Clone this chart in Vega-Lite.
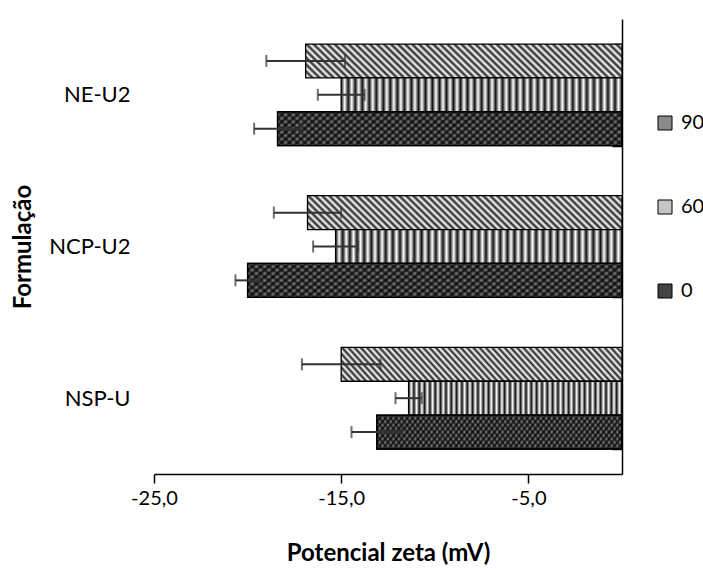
{
  "$schema": "https://vega.github.io/schema/vega-lite/v6.json",
  "width": 468,
  "height": 455,
  "autosize": "none",
  "padding": {"left": 154, "top": 19, "right": 81, "bottom": 98},
  "background": "white",
  "config": {
    "font": "Lato",
    "view": {"stroke": null},
    "axis": {"grid": false}
  },
  "data": {
    "values": [
      {"formulacao": "NE-U2", "tempo": "90", "valor": -16.9, "erro": 2.1},
      {"formulacao": "NE-U2", "tempo": "60", "valor": -15.0, "erro": 1.25},
      {"formulacao": "NE-U2", "tempo": "0", "valor": -18.4, "erro": 1.25},
      {"formulacao": "NCP-U2", "tempo": "90", "valor": -16.8, "erro": 1.8},
      {"formulacao": "NCP-U2", "tempo": "60", "valor": -15.3, "erro": 1.2},
      {"formulacao": "NCP-U2", "tempo": "0", "valor": -20.0, "erro": 0.65},
      {"formulacao": "NSP-U", "tempo": "90", "valor": -15.0, "erro": 2.1},
      {"formulacao": "NSP-U", "tempo": "60", "valor": -11.4, "erro": 0.7},
      {"formulacao": "NSP-U", "tempo": "0", "valor": -13.1, "erro": 1.35}
    ]
  },
  "encoding": {
    "x": {
      "field": "valor", "type": "quantitative", "title": "Potencial zeta (mV)",
      "scale": {"domain": [-25, 0], "nice": false},
      "axis": {
        "orient": "bottom", "values": [-25, -15, -5],
        "labelExpr": "datum.value < 0 ? '-' + replace(format(-datum.value, '.1f'), '.', ',') : replace(format(datum.value, '.1f'), '.', ',')",
        "labelFontSize": 20, "labelColor": "#000", "labelPadding": 5, "labelFlush": false,
        "tickSize": 9, "tickColor": "#000", "tickWidth": 1.5,
        "domainColor": "#000", "domainWidth": 1.5,
        "titleFontSize": 24, "titleFontWeight": "bold", "titleColor": "#000", "titlePadding": 33
      }
    },
    "y": {
      "field": "formulacao", "type": "nominal",
      "scale": {"domain": ["NE-U2", "NCP-U2", "NSP-U"], "paddingInner": 0.33, "paddingOuter": 0.165},
      "axis": null
    },
    "yOffset": {
      "field": "tempo", "type": "nominal",
      "scale": {"domain": ["90", "60", "0"], "paddingInner": 0, "paddingOuter": 0}
    }
  },
  "layer": [
    {
      "transform": [{"filter": "datum.tempo == '90'"}],
      "mark": {
        "type": "bar", "stroke": "#000", "strokeWidth": 1.3,
        "fill": {"gradient": "linear", "x1": 0, "y1": 1, "x2": 1.1, "y2": 0.88, "stops": [
          {"offset":0,"color":"#222"},{"offset":0.01,"color":"#fff"},{"offset":0.02,"color":"#222"},{"offset":0.03,"color":"#fff"},{"offset":0.04,"color":"#222"},{"offset":0.05,"color":"#fff"},{"offset":0.06,"color":"#222"},{"offset":0.07,"color":"#fff"},{"offset":0.08,"color":"#222"},{"offset":0.09,"color":"#fff"},
          {"offset":0.1,"color":"#222"},{"offset":0.11,"color":"#fff"},{"offset":0.12,"color":"#222"},{"offset":0.13,"color":"#fff"},{"offset":0.14,"color":"#222"},{"offset":0.15,"color":"#fff"},{"offset":0.16,"color":"#222"},{"offset":0.17,"color":"#fff"},{"offset":0.18,"color":"#222"},{"offset":0.19,"color":"#fff"},
          {"offset":0.2,"color":"#222"},{"offset":0.21,"color":"#fff"},{"offset":0.22,"color":"#222"},{"offset":0.23,"color":"#fff"},{"offset":0.24,"color":"#222"},{"offset":0.25,"color":"#fff"},{"offset":0.26,"color":"#222"},{"offset":0.27,"color":"#fff"},{"offset":0.28,"color":"#222"},{"offset":0.29,"color":"#fff"},
          {"offset":0.3,"color":"#222"},{"offset":0.31,"color":"#fff"},{"offset":0.32,"color":"#222"},{"offset":0.33,"color":"#fff"},{"offset":0.34,"color":"#222"},{"offset":0.35,"color":"#fff"},{"offset":0.36,"color":"#222"},{"offset":0.37,"color":"#fff"},{"offset":0.38,"color":"#222"},{"offset":0.39,"color":"#fff"},
          {"offset":0.4,"color":"#222"},{"offset":0.41,"color":"#fff"},{"offset":0.42,"color":"#222"},{"offset":0.43,"color":"#fff"},{"offset":0.44,"color":"#222"},{"offset":0.45,"color":"#fff"},{"offset":0.46,"color":"#222"},{"offset":0.47,"color":"#fff"},{"offset":0.48,"color":"#222"},{"offset":0.49,"color":"#fff"},
          {"offset":0.5,"color":"#222"},{"offset":0.51,"color":"#fff"},{"offset":0.52,"color":"#222"},{"offset":0.53,"color":"#fff"},{"offset":0.54,"color":"#222"},{"offset":0.55,"color":"#fff"},{"offset":0.56,"color":"#222"},{"offset":0.57,"color":"#fff"},{"offset":0.58,"color":"#222"},{"offset":0.59,"color":"#fff"},
          {"offset":0.6,"color":"#222"},{"offset":0.61,"color":"#fff"},{"offset":0.62,"color":"#222"},{"offset":0.63,"color":"#fff"},{"offset":0.64,"color":"#222"},{"offset":0.65,"color":"#fff"},{"offset":0.66,"color":"#222"},{"offset":0.67,"color":"#fff"},{"offset":0.68,"color":"#222"},{"offset":0.69,"color":"#fff"},
          {"offset":0.7,"color":"#222"},{"offset":0.71,"color":"#fff"},{"offset":0.72,"color":"#222"},{"offset":0.73,"color":"#fff"},{"offset":0.74,"color":"#222"},{"offset":0.75,"color":"#fff"},{"offset":0.76,"color":"#222"},{"offset":0.77,"color":"#fff"},{"offset":0.78,"color":"#222"},{"offset":0.79,"color":"#fff"},
          {"offset":0.8,"color":"#222"},{"offset":0.81,"color":"#fff"},{"offset":0.82,"color":"#222"},{"offset":0.83,"color":"#fff"},{"offset":0.84,"color":"#222"},{"offset":0.85,"color":"#fff"},{"offset":0.86,"color":"#222"},{"offset":0.87,"color":"#fff"},{"offset":0.88,"color":"#222"},{"offset":0.89,"color":"#fff"},
          {"offset":0.9,"color":"#222"},{"offset":0.91,"color":"#fff"},{"offset":0.92,"color":"#222"},{"offset":0.93,"color":"#fff"},{"offset":0.94,"color":"#222"},{"offset":0.95,"color":"#fff"},{"offset":0.96,"color":"#222"},{"offset":0.97,"color":"#fff"},{"offset":0.98,"color":"#222"},{"offset":0.99,"color":"#fff"},
          {"offset":1,"color":"#222"}
        ]}
      },
      "encoding": {
        "y": {
          "field": "formulacao", "type": "nominal",
          "scale": {"domain": ["NE-U2", "NCP-U2", "NSP-U"], "paddingInner": 0.33, "paddingOuter": 0.165},
          "axis": {
            "orient": "left", "offset": -468, "title": "Formulação",
            "titleFontSize": 24, "titleFontWeight": "bold", "titleColor": "#000",
            "titleX": -599, "titleY": 227.5, "titleAngle": -90, "titleAlign": "center", "titleBaseline": "middle",
            "labelFontSize": 22, "labelColor": "#000", "labelPadding": 482,
            "domain": true, "domainColor": "#000", "domainWidth": 1.5,
            "ticks": true, "tickBand": "extent", "tickSize": 10, "tickColor": "#000", "tickWidth": 1.5
          }
        }
      }
    },
    {
      "transform": [{"filter": "datum.tempo == '60'"}],
      "mark": {
        "type": "bar", "stroke": "#000", "strokeWidth": 1.3,
        "fill": {"gradient": "linear", "x1": 0, "y1": 0, "x2": 1, "y2": 0, "stops": [
          {"offset":0,"color":"#111"},{"offset":0.0125,"color":"#fff"},{"offset":0.025,"color":"#111"},{"offset":0.0375,"color":"#fff"},{"offset":0.05,"color":"#111"},{"offset":0.0625,"color":"#fff"},{"offset":0.075,"color":"#111"},{"offset":0.0875,"color":"#fff"},
          {"offset":0.1,"color":"#111"},{"offset":0.1125,"color":"#fff"},{"offset":0.125,"color":"#111"},{"offset":0.1375,"color":"#fff"},{"offset":0.15,"color":"#111"},{"offset":0.1625,"color":"#fff"},{"offset":0.175,"color":"#111"},{"offset":0.1875,"color":"#fff"},
          {"offset":0.2,"color":"#111"},{"offset":0.2125,"color":"#fff"},{"offset":0.225,"color":"#111"},{"offset":0.2375,"color":"#fff"},{"offset":0.25,"color":"#111"},{"offset":0.2625,"color":"#fff"},{"offset":0.275,"color":"#111"},{"offset":0.2875,"color":"#fff"},
          {"offset":0.3,"color":"#111"},{"offset":0.3125,"color":"#fff"},{"offset":0.325,"color":"#111"},{"offset":0.3375,"color":"#fff"},{"offset":0.35,"color":"#111"},{"offset":0.3625,"color":"#fff"},{"offset":0.375,"color":"#111"},{"offset":0.3875,"color":"#fff"},
          {"offset":0.4,"color":"#111"},{"offset":0.4125,"color":"#fff"},{"offset":0.425,"color":"#111"},{"offset":0.4375,"color":"#fff"},{"offset":0.45,"color":"#111"},{"offset":0.4625,"color":"#fff"},{"offset":0.475,"color":"#111"},{"offset":0.4875,"color":"#fff"},
          {"offset":0.5,"color":"#111"},{"offset":0.5125,"color":"#fff"},{"offset":0.525,"color":"#111"},{"offset":0.5375,"color":"#fff"},{"offset":0.55,"color":"#111"},{"offset":0.5625,"color":"#fff"},{"offset":0.575,"color":"#111"},{"offset":0.5875,"color":"#fff"},
          {"offset":0.6,"color":"#111"},{"offset":0.6125,"color":"#fff"},{"offset":0.625,"color":"#111"},{"offset":0.6375,"color":"#fff"},{"offset":0.65,"color":"#111"},{"offset":0.6625,"color":"#fff"},{"offset":0.675,"color":"#111"},{"offset":0.6875,"color":"#fff"},
          {"offset":0.7,"color":"#111"},{"offset":0.7125,"color":"#fff"},{"offset":0.725,"color":"#111"},{"offset":0.7375,"color":"#fff"},{"offset":0.75,"color":"#111"},{"offset":0.7625,"color":"#fff"},{"offset":0.775,"color":"#111"},{"offset":0.7875,"color":"#fff"},
          {"offset":0.8,"color":"#111"},{"offset":0.8125,"color":"#fff"},{"offset":0.825,"color":"#111"},{"offset":0.8375,"color":"#fff"},{"offset":0.85,"color":"#111"},{"offset":0.8625,"color":"#fff"},{"offset":0.875,"color":"#111"},{"offset":0.8875,"color":"#fff"},
          {"offset":0.9,"color":"#111"},{"offset":0.9125,"color":"#fff"},{"offset":0.925,"color":"#111"},{"offset":0.9375,"color":"#fff"},{"offset":0.95,"color":"#111"},{"offset":0.9625,"color":"#fff"},{"offset":0.975,"color":"#111"},{"offset":0.9875,"color":"#fff"},
          {"offset":1,"color":"#111"}
        ]}
      }
    },
    {
      "transform": [{"filter": "datum.tempo == '0'"}],
      "mark": {
        "type": "bar", "stroke": "#000", "strokeWidth": 1.3,
        "fill": {"gradient": "linear", "x1": 0, "y1": 0, "x2": 1.1, "y2": 0.12, "stops": [
          {"offset":0,"color":"#1a1a1a"},{"offset":0.01,"color":"#8c8c8c"},{"offset":0.02,"color":"#1a1a1a"},{"offset":0.03,"color":"#8c8c8c"},{"offset":0.04,"color":"#1a1a1a"},{"offset":0.05,"color":"#8c8c8c"},{"offset":0.06,"color":"#1a1a1a"},{"offset":0.07,"color":"#8c8c8c"},{"offset":0.08,"color":"#1a1a1a"},{"offset":0.09,"color":"#8c8c8c"},
          {"offset":0.1,"color":"#1a1a1a"},{"offset":0.11,"color":"#8c8c8c"},{"offset":0.12,"color":"#1a1a1a"},{"offset":0.13,"color":"#8c8c8c"},{"offset":0.14,"color":"#1a1a1a"},{"offset":0.15,"color":"#8c8c8c"},{"offset":0.16,"color":"#1a1a1a"},{"offset":0.17,"color":"#8c8c8c"},{"offset":0.18,"color":"#1a1a1a"},{"offset":0.19,"color":"#8c8c8c"},
          {"offset":0.2,"color":"#1a1a1a"},{"offset":0.21,"color":"#8c8c8c"},{"offset":0.22,"color":"#1a1a1a"},{"offset":0.23,"color":"#8c8c8c"},{"offset":0.24,"color":"#1a1a1a"},{"offset":0.25,"color":"#8c8c8c"},{"offset":0.26,"color":"#1a1a1a"},{"offset":0.27,"color":"#8c8c8c"},{"offset":0.28,"color":"#1a1a1a"},{"offset":0.29,"color":"#8c8c8c"},
          {"offset":0.3,"color":"#1a1a1a"},{"offset":0.31,"color":"#8c8c8c"},{"offset":0.32,"color":"#1a1a1a"},{"offset":0.33,"color":"#8c8c8c"},{"offset":0.34,"color":"#1a1a1a"},{"offset":0.35,"color":"#8c8c8c"},{"offset":0.36,"color":"#1a1a1a"},{"offset":0.37,"color":"#8c8c8c"},{"offset":0.38,"color":"#1a1a1a"},{"offset":0.39,"color":"#8c8c8c"},
          {"offset":0.4,"color":"#1a1a1a"},{"offset":0.41,"color":"#8c8c8c"},{"offset":0.42,"color":"#1a1a1a"},{"offset":0.43,"color":"#8c8c8c"},{"offset":0.44,"color":"#1a1a1a"},{"offset":0.45,"color":"#8c8c8c"},{"offset":0.46,"color":"#1a1a1a"},{"offset":0.47,"color":"#8c8c8c"},{"offset":0.48,"color":"#1a1a1a"},{"offset":0.49,"color":"#8c8c8c"},
          {"offset":0.5,"color":"#1a1a1a"},{"offset":0.51,"color":"#8c8c8c"},{"offset":0.52,"color":"#1a1a1a"},{"offset":0.53,"color":"#8c8c8c"},{"offset":0.54,"color":"#1a1a1a"},{"offset":0.55,"color":"#8c8c8c"},{"offset":0.56,"color":"#1a1a1a"},{"offset":0.57,"color":"#8c8c8c"},{"offset":0.58,"color":"#1a1a1a"},{"offset":0.59,"color":"#8c8c8c"},
          {"offset":0.6,"color":"#1a1a1a"},{"offset":0.61,"color":"#8c8c8c"},{"offset":0.62,"color":"#1a1a1a"},{"offset":0.63,"color":"#8c8c8c"},{"offset":0.64,"color":"#1a1a1a"},{"offset":0.65,"color":"#8c8c8c"},{"offset":0.66,"color":"#1a1a1a"},{"offset":0.67,"color":"#8c8c8c"},{"offset":0.68,"color":"#1a1a1a"},{"offset":0.69,"color":"#8c8c8c"},
          {"offset":0.7,"color":"#1a1a1a"},{"offset":0.71,"color":"#8c8c8c"},{"offset":0.72,"color":"#1a1a1a"},{"offset":0.73,"color":"#8c8c8c"},{"offset":0.74,"color":"#1a1a1a"},{"offset":0.75,"color":"#8c8c8c"},{"offset":0.76,"color":"#1a1a1a"},{"offset":0.77,"color":"#8c8c8c"},{"offset":0.78,"color":"#1a1a1a"},{"offset":0.79,"color":"#8c8c8c"},
          {"offset":0.8,"color":"#1a1a1a"},{"offset":0.81,"color":"#8c8c8c"},{"offset":0.82,"color":"#1a1a1a"},{"offset":0.83,"color":"#8c8c8c"},{"offset":0.84,"color":"#1a1a1a"},{"offset":0.85,"color":"#8c8c8c"},{"offset":0.86,"color":"#1a1a1a"},{"offset":0.87,"color":"#8c8c8c"},{"offset":0.88,"color":"#1a1a1a"},{"offset":0.89,"color":"#8c8c8c"},
          {"offset":0.9,"color":"#1a1a1a"},{"offset":0.91,"color":"#8c8c8c"},{"offset":0.92,"color":"#1a1a1a"},{"offset":0.93,"color":"#8c8c8c"},{"offset":0.94,"color":"#1a1a1a"},{"offset":0.95,"color":"#8c8c8c"},{"offset":0.96,"color":"#1a1a1a"},{"offset":0.97,"color":"#8c8c8c"},{"offset":0.98,"color":"#1a1a1a"},{"offset":0.99,"color":"#8c8c8c"},
          {"offset":1,"color":"#1a1a1a"}
        ]}
      }
    },
    {
      "transform": [{"filter": "datum.tempo == '0'"}],
      "mark": {
        "type": "bar", "stroke": "#000", "strokeWidth": 1.3,
        "fill": {"gradient": "linear", "x1": 0, "y1": 1, "x2": 1.1, "y2": 0.88, "stops": [
          {"offset":0,"color":"rgba(0,0,0,0.7)"},{"offset":0.01,"color":"rgba(0,0,0,0)"},{"offset":0.02,"color":"rgba(0,0,0,0.7)"},{"offset":0.03,"color":"rgba(0,0,0,0)"},{"offset":0.04,"color":"rgba(0,0,0,0.7)"},{"offset":0.05,"color":"rgba(0,0,0,0)"},{"offset":0.06,"color":"rgba(0,0,0,0.7)"},{"offset":0.07,"color":"rgba(0,0,0,0)"},{"offset":0.08,"color":"rgba(0,0,0,0.7)"},{"offset":0.09,"color":"rgba(0,0,0,0)"},
          {"offset":0.1,"color":"rgba(0,0,0,0.7)"},{"offset":0.11,"color":"rgba(0,0,0,0)"},{"offset":0.12,"color":"rgba(0,0,0,0.7)"},{"offset":0.13,"color":"rgba(0,0,0,0)"},{"offset":0.14,"color":"rgba(0,0,0,0.7)"},{"offset":0.15,"color":"rgba(0,0,0,0)"},{"offset":0.16,"color":"rgba(0,0,0,0.7)"},{"offset":0.17,"color":"rgba(0,0,0,0)"},{"offset":0.18,"color":"rgba(0,0,0,0.7)"},{"offset":0.19,"color":"rgba(0,0,0,0)"},
          {"offset":0.2,"color":"rgba(0,0,0,0.7)"},{"offset":0.21,"color":"rgba(0,0,0,0)"},{"offset":0.22,"color":"rgba(0,0,0,0.7)"},{"offset":0.23,"color":"rgba(0,0,0,0)"},{"offset":0.24,"color":"rgba(0,0,0,0.7)"},{"offset":0.25,"color":"rgba(0,0,0,0)"},{"offset":0.26,"color":"rgba(0,0,0,0.7)"},{"offset":0.27,"color":"rgba(0,0,0,0)"},{"offset":0.28,"color":"rgba(0,0,0,0.7)"},{"offset":0.29,"color":"rgba(0,0,0,0)"},
          {"offset":0.3,"color":"rgba(0,0,0,0.7)"},{"offset":0.31,"color":"rgba(0,0,0,0)"},{"offset":0.32,"color":"rgba(0,0,0,0.7)"},{"offset":0.33,"color":"rgba(0,0,0,0)"},{"offset":0.34,"color":"rgba(0,0,0,0.7)"},{"offset":0.35,"color":"rgba(0,0,0,0)"},{"offset":0.36,"color":"rgba(0,0,0,0.7)"},{"offset":0.37,"color":"rgba(0,0,0,0)"},{"offset":0.38,"color":"rgba(0,0,0,0.7)"},{"offset":0.39,"color":"rgba(0,0,0,0)"},
          {"offset":0.4,"color":"rgba(0,0,0,0.7)"},{"offset":0.41,"color":"rgba(0,0,0,0)"},{"offset":0.42,"color":"rgba(0,0,0,0.7)"},{"offset":0.43,"color":"rgba(0,0,0,0)"},{"offset":0.44,"color":"rgba(0,0,0,0.7)"},{"offset":0.45,"color":"rgba(0,0,0,0)"},{"offset":0.46,"color":"rgba(0,0,0,0.7)"},{"offset":0.47,"color":"rgba(0,0,0,0)"},{"offset":0.48,"color":"rgba(0,0,0,0.7)"},{"offset":0.49,"color":"rgba(0,0,0,0)"},
          {"offset":0.5,"color":"rgba(0,0,0,0.7)"},{"offset":0.51,"color":"rgba(0,0,0,0)"},{"offset":0.52,"color":"rgba(0,0,0,0.7)"},{"offset":0.53,"color":"rgba(0,0,0,0)"},{"offset":0.54,"color":"rgba(0,0,0,0.7)"},{"offset":0.55,"color":"rgba(0,0,0,0)"},{"offset":0.56,"color":"rgba(0,0,0,0.7)"},{"offset":0.57,"color":"rgba(0,0,0,0)"},{"offset":0.58,"color":"rgba(0,0,0,0.7)"},{"offset":0.59,"color":"rgba(0,0,0,0)"},
          {"offset":0.6,"color":"rgba(0,0,0,0.7)"},{"offset":0.61,"color":"rgba(0,0,0,0)"},{"offset":0.62,"color":"rgba(0,0,0,0.7)"},{"offset":0.63,"color":"rgba(0,0,0,0)"},{"offset":0.64,"color":"rgba(0,0,0,0.7)"},{"offset":0.65,"color":"rgba(0,0,0,0)"},{"offset":0.66,"color":"rgba(0,0,0,0.7)"},{"offset":0.67,"color":"rgba(0,0,0,0)"},{"offset":0.68,"color":"rgba(0,0,0,0.7)"},{"offset":0.69,"color":"rgba(0,0,0,0)"},
          {"offset":0.7,"color":"rgba(0,0,0,0.7)"},{"offset":0.71,"color":"rgba(0,0,0,0)"},{"offset":0.72,"color":"rgba(0,0,0,0.7)"},{"offset":0.73,"color":"rgba(0,0,0,0)"},{"offset":0.74,"color":"rgba(0,0,0,0.7)"},{"offset":0.75,"color":"rgba(0,0,0,0)"},{"offset":0.76,"color":"rgba(0,0,0,0.7)"},{"offset":0.77,"color":"rgba(0,0,0,0)"},{"offset":0.78,"color":"rgba(0,0,0,0.7)"},{"offset":0.79,"color":"rgba(0,0,0,0)"},
          {"offset":0.8,"color":"rgba(0,0,0,0.7)"},{"offset":0.81,"color":"rgba(0,0,0,0)"},{"offset":0.82,"color":"rgba(0,0,0,0.7)"},{"offset":0.83,"color":"rgba(0,0,0,0)"},{"offset":0.84,"color":"rgba(0,0,0,0.7)"},{"offset":0.85,"color":"rgba(0,0,0,0)"},{"offset":0.86,"color":"rgba(0,0,0,0.7)"},{"offset":0.87,"color":"rgba(0,0,0,0)"},{"offset":0.88,"color":"rgba(0,0,0,0.7)"},{"offset":0.89,"color":"rgba(0,0,0,0)"},
          {"offset":0.9,"color":"rgba(0,0,0,0.7)"},{"offset":0.91,"color":"rgba(0,0,0,0)"},{"offset":0.92,"color":"rgba(0,0,0,0.7)"},{"offset":0.93,"color":"rgba(0,0,0,0)"},{"offset":0.94,"color":"rgba(0,0,0,0.7)"},{"offset":0.95,"color":"rgba(0,0,0,0)"},{"offset":0.96,"color":"rgba(0,0,0,0.7)"},{"offset":0.97,"color":"rgba(0,0,0,0)"},{"offset":0.98,"color":"rgba(0,0,0,0.7)"},{"offset":0.99,"color":"rgba(0,0,0,0)"},
          {"offset":1,"color":"rgba(0,0,0,0.7)"}
        ]}
      }
    },
    {
      "mark": {"type": "errorbar", "ticks": true, "size": 12, "thickness": 2, "color": "#333"},
      "encoding": {
        "x": {"field": "valor", "type": "quantitative", "title": "Potencial zeta (mV)"},
        "xError": {"field": "erro"}
      }
    },
    {
      "mark": {"type": "square", "size": 0, "filled": true},
      "encoding": {
        "color": {
          "field": "tempo", "type": "nominal",
          "scale": {"domain": ["90", "60", "0"], "range": ["#8a8a8a", "#c4c4c4", "#444444"]},
          "legend": {
            "orient": "none", "legendX": 501, "legendY": 94, "direction": "vertical",
            "title": null, "symbolType": "square", "symbolSize": 196, "symbolOpacity": 1,
            "symbolStrokeColor": "#000", "symbolStrokeWidth": 1,
            "labelFontSize": 20, "labelColor": "#000", "labelOffset": 6, "rowPadding": 64
          }
        }
      }
    }
  ],
  "resolve": {"axis": {"y": "independent"}}
}
